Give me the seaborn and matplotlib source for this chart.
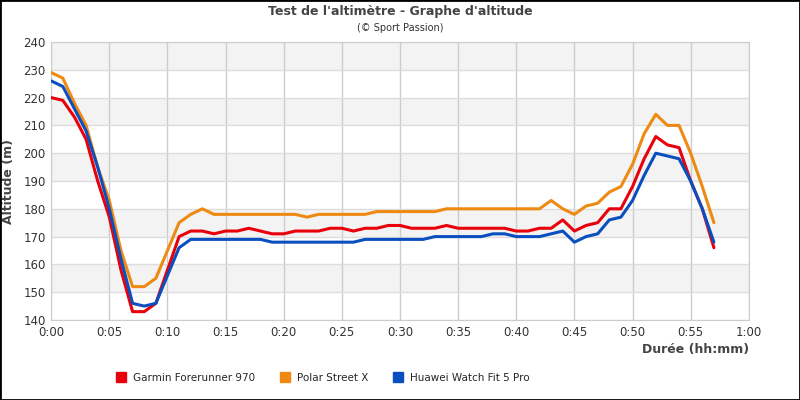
import matplotlib
matplotlib.use("Agg")
import matplotlib.pyplot as plt
import seaborn as sns
import pandas as pd
from matplotlib.patches import Rectangle

minutes = list(range(58))
garmin = [220,219,213,205,190,177,158,143,143,146,158,170,172,172,171,172,172,173,172,171,
          171,172,172,172,173,173,172,173,173,174,174,173,173,173,174,173,173,173,173,173,
          172,172,173,173,176,172,174,175,180,180,188,198,206,203,202,190,180,166]
polar = [229,227,218,210,195,183,165,152,152,155,165,175,178,180,178,178,178,178,178,178,
         178,178,177,178,178,178,178,178,179,179,179,179,179,179,180,180,180,180,180,180,
         180,180,180,183,180,178,181,182,186,188,196,207,214,210,210,200,188,175]
huawei = [226,224,216,208,195,180,162,146,145,146,156,166,169,169,169,169,169,169,169,168,
          168,168,168,168,168,168,168,169,169,169,169,169,169,170,170,170,170,170,171,171,
          170,170,170,171,172,168,170,171,176,177,183,192,200,199,198,190,180,168]
names = ["Garmin Forerunner 970", "Polar Street X", "Huawei Watch Fit 5 Pro"]
colors = ["#e8000b", "#ee8a12", "#0a4fbf"]
xticks = list(range(0, 61, 5))
xlabels = ["0:00","0:05","0:10","0:15","0:20","0:25","0:30","0:35","0:40","0:45","0:50","0:55","1:00"]

df = pd.concat([pd.DataFrame({"t": minutes, "alt": v, "dev": n})
                for v, n in zip([garmin, polar, huawei], names)])

sns.set_style("white")
plt.rcParams['font.family'] = ['DejaVu Sans']
fig = plt.figure(figsize=(8, 4), dpi=100)
ax = fig.add_axes([0.064, 0.2, 0.872, 0.695])
for lo in range(140, 240, 10):
    if (lo // 10) % 2 == 1:
        ax.axhspan(lo, lo + 10, color="#f3f3f3", zorder=0, lw=0)
sns.lineplot(data=df, x="t", y="alt", hue="dev", palette=colors, linewidth=2.2,
             ax=ax, legend=False, zorder=3)
ax.set_xlim(0, 60)
ax.set_ylim(140, 240)
ax.set_xticks(xticks)
ax.set_xticklabels(xlabels, fontsize=8.5)
ax.set_yticks(range(140, 241, 10))
ax.tick_params(labelsize=8.5, length=0, colors="#333", pad=4)
ax.grid(True, color="#dddddd", lw=1)
ax.xaxis.grid(True, color="#cccccc")
ax.set_axisbelow(True)
for s in ax.spines.values():
    s.set_color("#cccccc")
ax.set_xlabel("Durée (hh:mm)", fontsize=9, fontweight="bold", color="#444", loc="right", labelpad=3)
ax.set_ylabel("Altitude (m)", fontsize=9, fontweight="bold", color="#444", labelpad=6)
fig.text(0.5, 0.963, "Test de l'altimètre - Graphe d'altitude", ha="center", fontsize=9,
         fontweight="bold", color="#444")
fig.text(0.5, 0.922, "(© Sport Passion)", ha="center", fontsize=7, color="#333")
handles = [plt.Line2D([], [], marker="s", ls="", color=c, markersize=7) for c in colors]
fig.legend(handles, names, loc="center", bbox_to_anchor=(0.4, 0.055), ncol=3, frameon=False,
           fontsize=7.5, handletextpad=0.2, columnspacing=1.8)
fig.patches.append(Rectangle((0, 0), 1, 1, transform=fig.transFigure, fill=False,
                             edgecolor="black", lw=2))
fig.savefig("out.png", dpi=100)
